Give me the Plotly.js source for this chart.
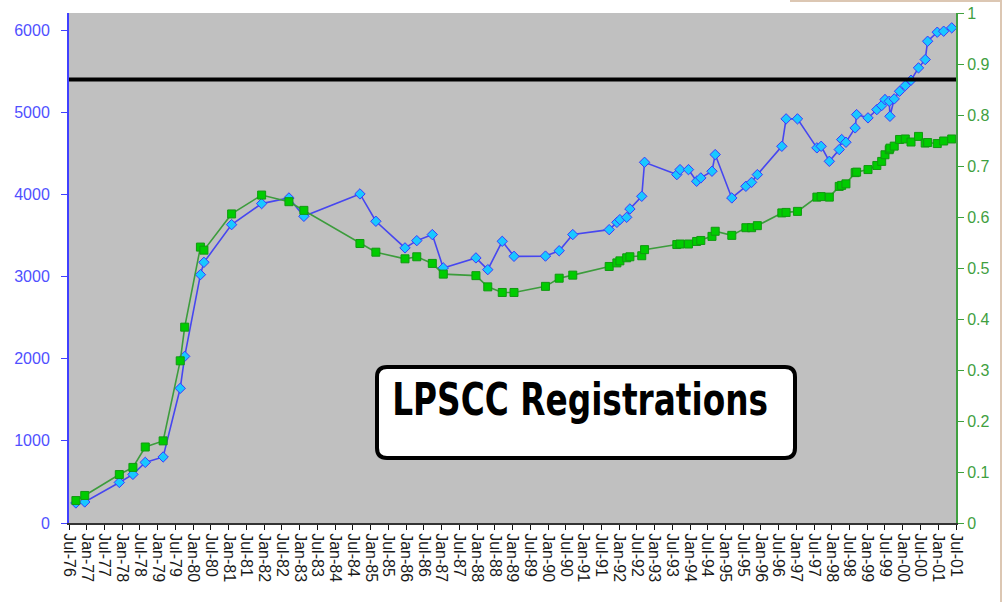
<!DOCTYPE html>
<html>
<head>
<meta charset="utf-8">
<script src="https://cdn.plot.ly/plotly-3.0.1.min.js"></script>
<style>
html,body{margin:0;padding:0;background:#fff;}
#chart{width:1003px;height:602px;}
.annotation-text{font-stretch:condensed !important;}
</style>
</head>
<body>
<div id="chart"></div>
<script>
// ---- data ----
const dates = [
  "1976-09-10","1976-12-10","1977-12-01","1978-04-20","1978-08-25","1979-02-25","1979-08-20","1979-10-05",
  "1980-03-15","1980-04-20","1981-01-30","1981-12-05","1982-09-12","1983-02-13","1984-09-12","1985-02-23",
  "1985-12-20","1986-04-20","1986-09-27","1987-01-18","1987-12-20","1988-04-20","1988-09-16","1989-01-15",
  "1989-12-05","1990-04-25","1990-09-12","1991-09-22","1991-12-10","1992-01-10","1992-03-20","1992-04-22",
  "1992-08-22","1992-09-20","1993-08-18","1993-09-20","1993-12-16","1994-03-10","1994-04-22","1994-08-15",
  "1994-09-17","1995-03-07","1995-07-30","1995-09-27","1995-11-25","1996-08-03","1996-09-16","1997-01-11",
  "1997-07-30","1997-09-12","1997-12-05","1998-03-17","1998-04-11","1998-05-25","1998-08-28","1998-09-12",
  "1999-01-07","1999-04-08","1999-05-28","1999-07-01","1999-08-14","1999-08-21","1999-10-04","1999-11-28",
  "2000-01-26","2000-03-25","2000-06-10","2000-08-18","2000-09-12","2000-12-20","2001-02-24","2001-05-18"
];
const registrations = [
  244,256,494,592,738,804,1640,2029,
  3024,3174,3633,3889,3958,3734,4007,3674,
  3350,3438,3512,3106,3228,3085,3430,3247,
  3250,3315,3512,3572,3661,3694,3722,3824,
  3978,4392,4242,4303,4303,4161,4202,4283,
  4486,3958,4100,4148,4242,4587,4921,4921,
  4568,4587,4404,4547,4669,4636,4811,4973,
  4933,5034,5083,5156,5135,4952,5164,5257,
  5326,5391,5542,5643,5866,5976,5988,6029
];
const ratio = [
  0.044,0.054,0.095,0.109,0.149,0.161,0.318,0.384,
  0.541,0.535,0.606,0.643,0.630,0.613,0.548,0.531,
  0.518,0.522,0.509,0.488,0.485,0.463,0.452,0.452,
  0.464,0.480,0.486,0.503,0.510,0.514,0.520,0.522,
  0.524,0.536,0.546,0.547,0.547,0.552,0.554,0.562,
  0.572,0.564,0.579,0.579,0.583,0.608,0.609,0.611,
  0.639,0.640,0.639,0.660,0.662,0.665,0.687,0.688,
  0.693,0.701,0.709,0.722,0.732,0.735,0.739,0.752,
  0.753,0.747,0.758,0.745,0.746,0.744,0.749,0.753
];
const tickLabels = [
  "Jul-76","Jan-77","Jul-77","Jan-78","Jul-78","Jan-79","Jul-79","Jan-80","Jul-80","Jan-81",
  "Jul-81","Jan-82","Jul-82","Jan-83","Jul-83","Jan-84","Jul-84","Jan-85","Jul-85","Jan-86",
  "Jul-86","Jan-87","Jul-87","Jan-88","Jul-88","Jan-89","Jul-89","Jan-90","Jul-90","Jan-91",
  "Jul-91","Jan-92","Jul-92","Jan-93","Jul-93","Jan-94","Jul-94","Jan-95","Jul-95","Jan-96",
  "Jul-96","Jan-97","Jul-97","Jan-98","Jul-98","Jan-99","Jul-99","Jan-00","Jul-00","Jan-01","Jul-01"
];
const leftTicks = [0,1000,2000,3000,4000,5000,6000];
const rightTicks = [0,0.1,0.2,0.3,0.4,0.5,0.6,0.7,0.8,0.9,1];
const targetLevel = 5400;
const boxText = "LPSCC Registrations";

// ---- helpers ----
function labelToDate(l){
  const m = l.slice(0,3)==="Jan" ? "01" : "07";
  const yy = +l.slice(4);
  const y = yy > 50 ? 1900+yy : 2000+yy;
  return y+"-"+m+"-01";
}
const tickVals = tickLabels.map(labelToDate);

const PL=69, PR=956, PT=13, PB=523;
function px(x){return (x-PL)/(PR-PL);}
function py(y){return (PB-y)/(PB-PT);}
function roundRect(x0,y0,x1,y1,r){
  const p = (x,y)=>px(x)+","+py(y);
  return "M"+p(x0+r,y0)+" L"+p(x1-r,y0)+" Q"+p(x1,y0)+" "+p(x1,y0+r)+
         " L"+p(x1,y1-r)+" Q"+p(x1,y1)+" "+p(x1-r,y1)+
         " L"+p(x0+r,y1)+" Q"+p(x0,y1)+" "+p(x0,y1-r)+
         " L"+p(x0,y0+r)+" Q"+p(x0,y0)+" "+p(x0+r,y0)+" Z";
}

const traces = [
  {
    x: dates, y: registrations, type:"scatter", mode:"lines+markers", yaxis:"y",
    line:{color:"#4646f0", width:1.6},
    marker:{symbol:"diamond", size:8, color:"#19c8ff", line:{color:"#3a3aff", width:1}},
    hoverinfo:"x+y", showlegend:false
  },
  {
    x: dates, y: ratio, type:"scatter", mode:"lines+markers", yaxis:"y2",
    line:{color:"#3c9c3c", width:1.6},
    marker:{symbol:"square", size:8, color:"#00cc00", line:{color:"#119911", width:1}},
    hoverinfo:"x+y", showlegend:false
  }
];

const layout = {
  width:1003, height:602,
  margin:{l:PL, r:1003-PR, t:PT, b:602-PB, pad:0},
  paper_bgcolor:"#ffffff",
  plot_bgcolor:"#c0c0c0",
  font:{family:"Liberation Sans, Arial, sans-serif"},
  xaxis:{
    type:"date", range:["1976-07-01","2001-07-01"],
    tickmode:"array", tickvals:tickVals, ticktext:tickLabels,
    tickangle:90, tickfont:{size:16, color:"#1a1a1a"},
    ticks:"outside", ticklen:5, tickcolor:"#111", tickwidth:1,
    showline:true, linecolor:"#333", linewidth:2,
    showgrid:false, zeroline:false
  },
  yaxis:{
    range:[0,6210], tickmode:"array", tickvals:leftTicks,
    tickfont:{size:16, color:"#5050ff"},
    ticks:"outside", ticklen:6, tickcolor:"#4040ff", tickwidth:1,
    ticklabelstandoff:8,
    showline:true, linecolor:"#4040ff", linewidth:2,
    showgrid:false, zeroline:false
  },
  yaxis2:{
    range:[0,1], overlaying:"y", side:"right",
    tickmode:"array", tickvals:rightTicks, ticktext:rightTicks.map(String),
    tickfont:{size:16, color:"#3fa03f"},
    ticks:"outside", ticklen:6, tickcolor:"#3fa03f", tickwidth:1,
    showline:true, linecolor:"#3fa03f", linewidth:2,
    showgrid:false, zeroline:false
  },
  shapes:[
    {type:"line", xref:"paper", yref:"y", x0:0, x1:1, y0:targetLevel, y1:targetLevel,
     line:{color:"#000", width:4}, layer:"above"},
    {type:"path", xref:"paper", yref:"paper", path:roundRect(377,367,795,458,10),
     fillcolor:"#ffffff", line:{color:"#000", width:4}, layer:"above"},
    {type:"line", xref:"paper", yref:"paper", x0:px(790), x1:px(1001), y0:py(1), y1:py(1),
     line:{color:"#dcc7b3", width:2}, layer:"above"},
    {type:"line", xref:"paper", yref:"paper", x0:px(1001), x1:px(1001), y0:py(0), y1:py(602),
     line:{color:"#dcc7b3", width:2}, layer:"above"}
  ],
  annotations:[
    {xref:"paper", yref:"paper", x:px(580), y:py(371), xanchor:"center", yanchor:"top",
     text:"<b>"+boxText+"</b>", showarrow:false,
     font:{family:"Liberation Sans Narrow, DejaVu Sans Condensed, DejaVu Sans, sans-serif", size:45, color:"#000"}}
  ]
};

Plotly.newPlot("chart", traces, layout, {displayModeBar:false, staticPlot:true}).then(function(){
  // squeeze the title text horizontally to the condensed width of the original
  const t = document.querySelector(".annotation-text");
  if (!t) return;
  const bb = t.getBBox();
  const want = 376;
  const s = want / bb.width;
  if (Math.abs(s-1) > 0.02) {
    const cx = bb.x + bb.width/2;
    t.setAttribute("transform", "translate("+cx+",0) scale("+s+",1) translate("+(-cx)+",0)");
  }
});
</script>
</body>
</html>
